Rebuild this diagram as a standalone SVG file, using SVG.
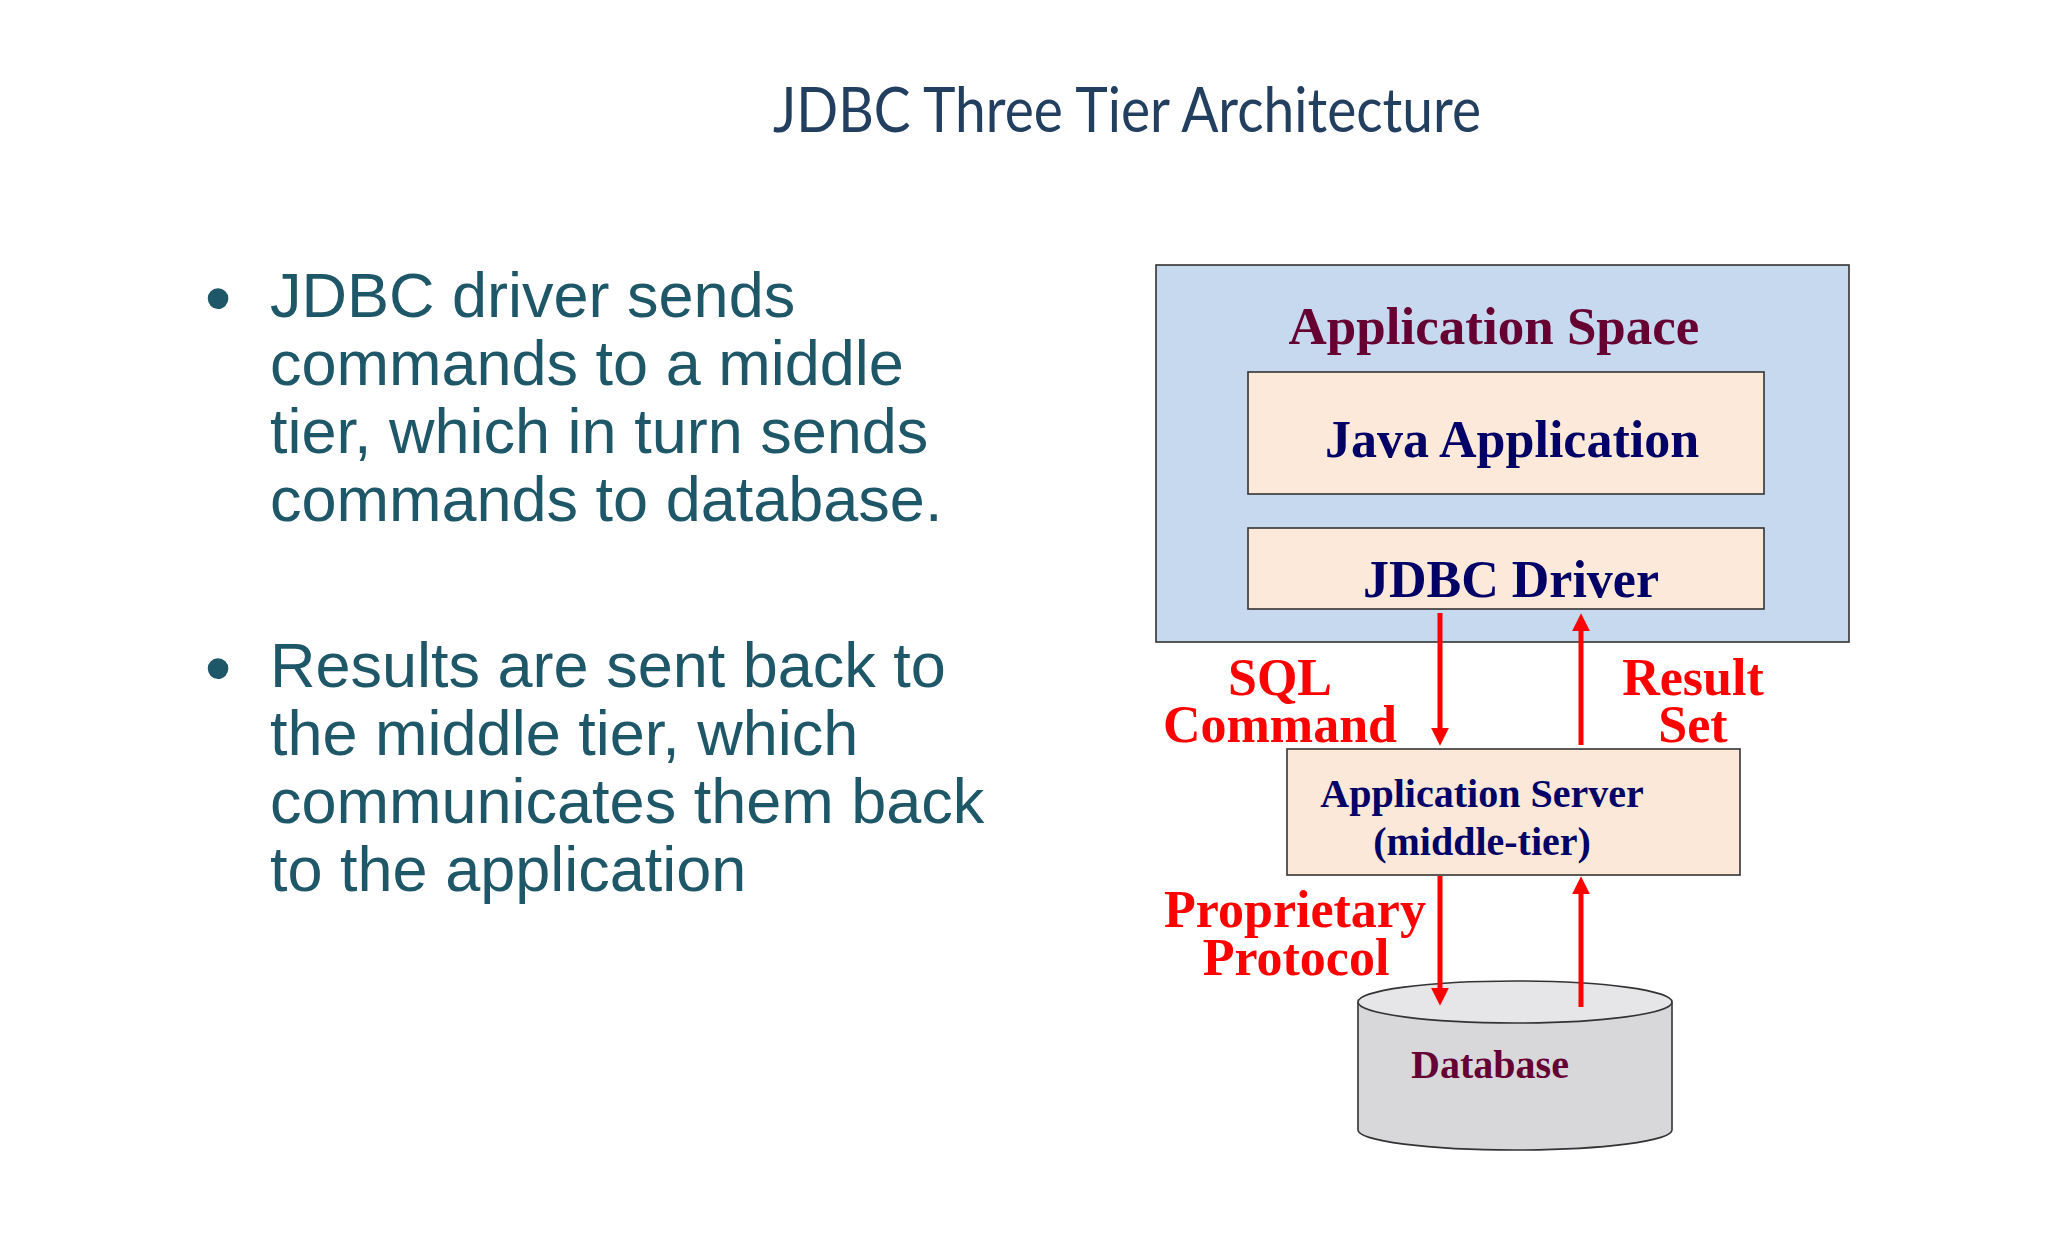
<svg xmlns="http://www.w3.org/2000/svg" width="2048" height="1243" viewBox="0 0 2048 1243">
<style>
.title{font-family:"Lato","Open Sans","Liberation Sans",sans-serif;font-size:61px;fill:#233F60}
.bul{font-family:"Liberation Sans",Arial,sans-serif;font-size:63px;fill:#1E5767}
.dot{font-family:"Liberation Sans",Arial,sans-serif;font-size:76px;fill:#1E5767}
.box{stroke:#333333;stroke-width:1.6}
.lbl{font-family:"Liberation Serif","Times New Roman",serif;font-weight:bold;text-anchor:middle}
.red{fill:#FF0000;font-size:52px}
.arr{stroke:#FF0000;stroke-width:5;fill:none}
</style>
<defs>
<marker id="ah" markerUnits="userSpaceOnUse" markerWidth="18" markerHeight="18" viewBox="0 0 17 17" refX="5" refY="8.5" orient="auto">
<path d="M0,0 L17,8.5 L0,17 z" fill="#FF0000"/>
</marker>
</defs>
<rect width="2048" height="1243" fill="#FFFFFF"/>
<text id="title" class="title" x="773" y="132" textLength="708" lengthAdjust="spacingAndGlyphs">JDBC Three Tier Architecture</text>
<g id="bullet1">
<text class="dot" x="218" y="324" text-anchor="middle">•</text>
<text class="bul" x="270" y="317">JDBC driver sends</text>
<text class="bul" x="270" y="385">commands to a middle</text>
<text class="bul" x="270" y="453">tier, which in turn sends</text>
<text class="bul" x="270" y="521">commands to database.</text>
</g>
<g id="bullet2">
<text class="dot" x="218" y="694" text-anchor="middle">•</text>
<text class="bul" x="270" y="687">Results are sent back to</text>
<text class="bul" x="270" y="755">the middle tier, which</text>
<text class="bul" x="270" y="823">communicates them back</text>
<text class="bul" x="270" y="891">to the application</text>
</g>
<g id="app-space">
<rect class="box" x="1156" y="265" width="693" height="377" fill="#C6D9EE"/>
<text class="lbl" x="1494" y="344" font-size="53" fill="#660033">Application Space</text>
</g>
<g id="java-app">
<rect class="box" x="1248" y="372" width="516" height="122" fill="#FDE9D9"/>
<text class="lbl" x="1512" y="457" font-size="52" fill="#000066">Java Application</text>
</g>
<g id="jdbc-driver">
<rect class="box" x="1248" y="528" width="516" height="81" fill="#FDE9D9"/>
<text class="lbl" x="1511" y="597" font-size="52" fill="#000066">JDBC Driver</text>
</g>
<g id="app-server">
<rect class="box" x="1287" y="749" width="453" height="126" fill="#FCE8D8"/>
<text class="lbl" x="1482" y="807" font-size="40" fill="#000066">Application Server</text>
<text class="lbl" x="1482" y="855" font-size="40" fill="#000066">(middle-tier)</text>
</g>
<g id="database">
<path class="box" d="M1358,1002 L1358,1130 A157,20 0 0 0 1672,1130 L1672,1002" fill="#D8D8DB"/>
<ellipse class="box" cx="1515" cy="1002" rx="157" ry="21" fill="#E6E6E8"/>
<text class="lbl" x="1490" y="1078" font-size="40" fill="#660033">Database</text>
</g>
<g id="connectors">
<line class="arr" x1="1440" y1="613" x2="1440" y2="733" marker-end="url(#ah)"/>
<line class="arr" x1="1581" y1="745" x2="1581" y2="626" marker-end="url(#ah)"/>
<line class="arr" x1="1440" y1="876" x2="1440" y2="993" marker-end="url(#ah)"/>
<line class="arr" x1="1581" y1="1007" x2="1581" y2="889" marker-end="url(#ah)"/>
</g>
<g id="labels">
<text class="lbl red" x="1280" y="695">SQL</text>
<text class="lbl red" x="1280" y="742">Command</text>
<text class="lbl red" x="1693" y="695">Result</text>
<text class="lbl red" x="1693" y="742">Set</text>
<text class="lbl red" x="1295" y="927">Proprietary</text>
<text class="lbl red" x="1296" y="975">Protocol</text>
</g>
</svg>
